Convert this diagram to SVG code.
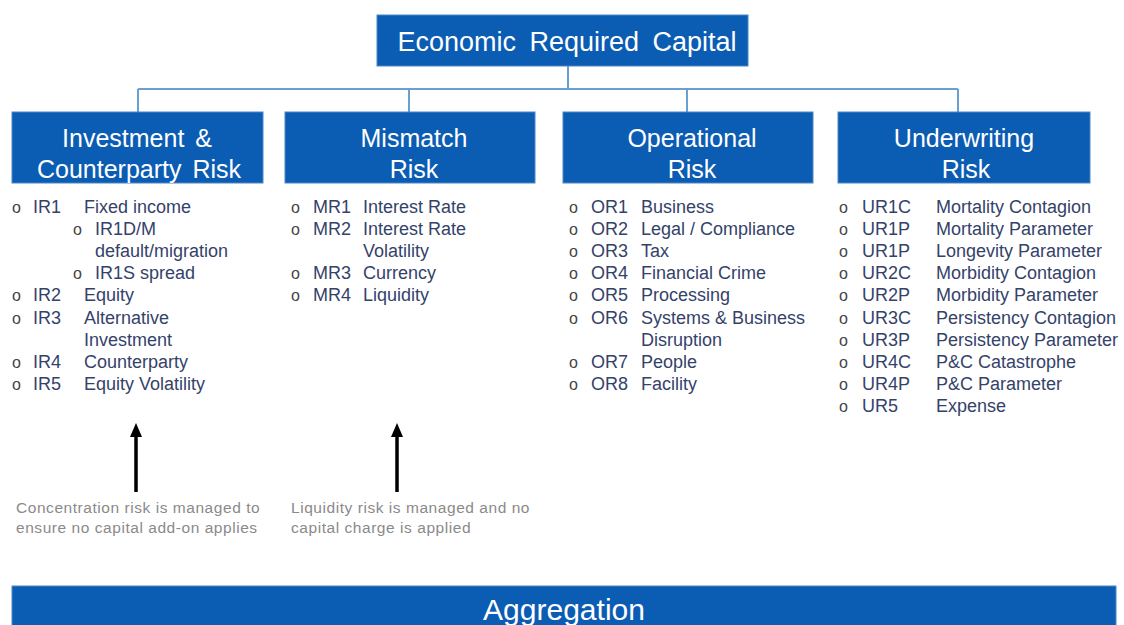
<svg xmlns="http://www.w3.org/2000/svg" width="1124" height="625" viewBox="0 0 1124 625">
<style>
.box{fill:#0b5cb3;stroke:#4f86c6;stroke-width:1}
.ht{fill:#ffffff;font-family:"Liberation Sans",Arial,sans-serif;font-size:25px;word-spacing:4px;text-anchor:middle}
.li{fill:#34426a;font-family:"Liberation Sans",Arial,sans-serif;font-size:18px}
.bu{fill:#444;font-family:"Liberation Sans",Arial,sans-serif;font-size:16px}
.note{fill:#8a8a8a;font-family:"Liberation Sans",Arial,sans-serif;font-size:15.5px;letter-spacing:0.55px}
.conn{stroke:#6a9fd4;stroke-width:2;fill:none}
.arr{stroke:#000;stroke-width:3.5}
</style>
<rect width="1124" height="625" fill="#ffffff"/>
<g id="connectors">
<path class="conn" d="M568,66 V89 M138,89 H958 M138,89 V112 M409,89 V112 M687,89 V112 M958,89 V112"/>
<line class="arr" x1="136" y1="492" x2="136" y2="432"/>
<polygon points="136,423 142,437 130,437" fill="#000"/>
<line class="arr" x1="397" y1="492" x2="397" y2="432"/>
<polygon points="397,423 403,437 391,437" fill="#000"/>
</g>
<g id="top">
<rect class="box" x="377" y="15" width="371" height="51"/>
<text class="ht" x="567" y="51" style="font-size:27px;word-spacing:6px">Economic Required Capital</text>
</g>
<g id="ir">
<rect class="box" x="12" y="112" width="251" height="71"/>
<text class="ht" x="137" y="147">Investment &amp;</text>
<text class="ht" x="139" y="178">Counterparty Risk</text>
<g class="li">
<text class="bu" x="12" y="213">o</text><text x="33" y="213">IR1</text><text x="84" y="213">Fixed income</text>
<text class="bu" x="73" y="235">o</text><text x="95" y="235">IR1D/M</text>
<text x="95" y="257">default/migration</text>
<text class="bu" x="73" y="279">o</text><text x="95" y="279">IR1S spread</text>
<text class="bu" x="12" y="301">o</text><text x="33" y="301">IR2</text><text x="84" y="301">Equity</text>
<text class="bu" x="12" y="324">o</text><text x="33" y="324">IR3</text><text x="84" y="324">Alternative</text>
<text x="84" y="346">Investment</text>
<text class="bu" x="12" y="368">o</text><text x="33" y="368">IR4</text><text x="84" y="368">Counterparty</text>
<text class="bu" x="12" y="390">o</text><text x="33" y="390">IR5</text><text x="84" y="390">Equity Volatility</text>
</g>
</g>
<g id="mr">
<rect class="box" x="285" y="112" width="250" height="71"/>
<text class="ht" x="414" y="147">Mismatch</text>
<text class="ht" x="414" y="178">Risk</text>
<g class="li">
<text class="bu" x="291" y="213">o</text><text x="313" y="213">MR1</text><text x="363" y="213">Interest Rate</text>
<text class="bu" x="291" y="235">o</text><text x="313" y="235">MR2</text><text x="363" y="235">Interest Rate</text>
<text x="363" y="257">Volatility</text>
<text class="bu" x="291" y="279">o</text><text x="313" y="279">MR3</text><text x="363" y="279">Currency</text>
<text class="bu" x="291" y="301">o</text><text x="313" y="301">MR4</text><text x="363" y="301">Liquidity</text>
</g>
</g>
<g id="or">
<rect class="box" x="563" y="112" width="250" height="71"/>
<text class="ht" x="692" y="147">Operational</text>
<text class="ht" x="692" y="178">Risk</text>
<g class="li">
<text class="bu" x="569" y="213">o</text><text x="591" y="213">OR1</text><text x="641" y="213">Business</text>
<text class="bu" x="569" y="235">o</text><text x="591" y="235">OR2</text><text x="641" y="235">Legal / Compliance</text>
<text class="bu" x="569" y="257">o</text><text x="591" y="257">OR3</text><text x="641" y="257">Tax</text>
<text class="bu" x="569" y="279">o</text><text x="591" y="279">OR4</text><text x="641" y="279">Financial Crime</text>
<text class="bu" x="569" y="301">o</text><text x="591" y="301">OR5</text><text x="641" y="301">Processing</text>
<text class="bu" x="569" y="324">o</text><text x="591" y="324">OR6</text><text x="641" y="324">Systems &amp; Business</text>
<text x="641" y="346">Disruption</text>
<text class="bu" x="569" y="368">o</text><text x="591" y="368">OR7</text><text x="641" y="368">People</text>
<text class="bu" x="569" y="390">o</text><text x="591" y="390">OR8</text><text x="641" y="390">Facility</text>
</g>
</g>
<g id="ur">
<rect class="box" x="838" y="112" width="252" height="71"/>
<text class="ht" x="964" y="147">Underwriting</text>
<text class="ht" x="966" y="178">Risk</text>
<g class="li">
<text class="bu" x="839" y="213">o</text><text x="862" y="213">UR1C</text><text x="936" y="213">Mortality Contagion</text>
<text class="bu" x="839" y="235">o</text><text x="862" y="235">UR1P</text><text x="936" y="235">Mortality Parameter</text>
<text class="bu" x="839" y="257">o</text><text x="862" y="257">UR1P</text><text x="936" y="257">Longevity Parameter</text>
<text class="bu" x="839" y="279">o</text><text x="862" y="279">UR2C</text><text x="936" y="279">Morbidity Contagion</text>
<text class="bu" x="839" y="301">o</text><text x="862" y="301">UR2P</text><text x="936" y="301">Morbidity Parameter</text>
<text class="bu" x="839" y="324">o</text><text x="862" y="324">UR3C</text><text x="936" y="324">Persistency Contagion</text>
<text class="bu" x="839" y="346">o</text><text x="862" y="346">UR3P</text><text x="936" y="346">Persistency Parameter</text>
<text class="bu" x="839" y="368">o</text><text x="862" y="368">UR4C</text><text x="936" y="368">P&amp;C Catastrophe</text>
<text class="bu" x="839" y="390">o</text><text x="862" y="390">UR4P</text><text x="936" y="390">P&amp;C Parameter</text>
<text class="bu" x="839" y="412">o</text><text x="862" y="412">UR5</text><text x="936" y="412">Expense</text>
</g>
</g>
<g id="note1">
<text class="note" x="16" y="513">Concentration risk is managed to</text>
<text class="note" x="16" y="533">ensure no capital add-on applies</text>
</g>
<g id="note2">
<text class="note" x="291" y="513">Liquidity risk is managed and no</text>
<text class="note" x="291" y="533">capital charge is applied</text>
</g>
<g id="aggregation">
<rect class="box" x="12" y="586" width="1104" height="45"/>
<text class="ht" x="564" y="620" style="font-size:30px" textLength="162" lengthAdjust="spacingAndGlyphs">Aggregation</text>
</g>
</svg>
